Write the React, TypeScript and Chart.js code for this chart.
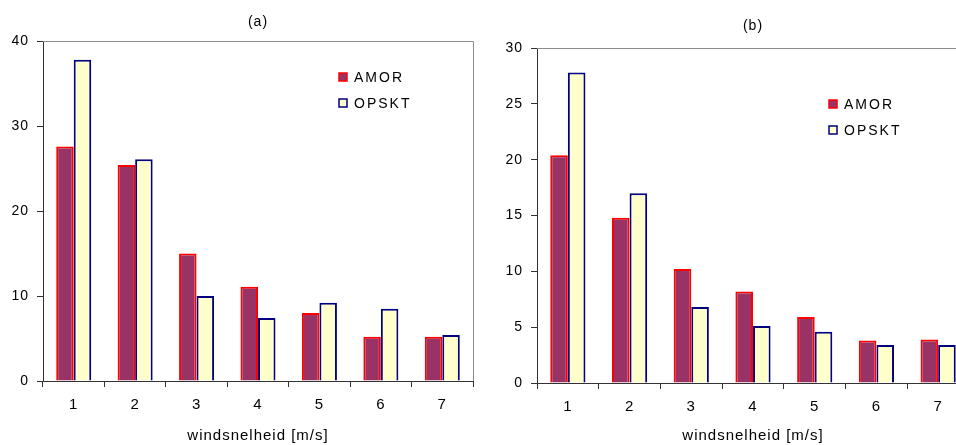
import React, { useEffect, useRef } from "react";
import { Chart, registerables } from "chart.js";
Chart.register(...registerables);

const categories = ["1", "2", "3", "4", "5", "6", "7"];
const seriesNames = ["AMOR", "OPSKT"];
const amorA = [27.6, 25.4, 15.0, 11.1, 8.0, 5.2, 5.2];
const opsktA = [37.8, 26.1, 10.0, 7.4, 9.2, 8.5, 5.4];
const amorB = [20.4, 14.8, 10.2, 8.2, 5.9, 3.8, 3.9];
const opsktB = [27.8, 17.0, 6.8, 5.1, 4.6, 3.4, 3.4];
const titleA = "(a)";
const titleB = "(b)";
const xTitle = "windsnelheid [m/s]";

const FONT = "'Liberation Sans', Arial, sans-serif";

type Cfg = {
  title: string;
  amor: number[];
  opskt: number[];
  yMax: number;
  yStep: number;
  yWidth: number;
  xHeight: number;
  titlePadTop: number;
  titlePadBottom: number;
  legendX: number;
  legendY: number;
};

const spacingPlugin = {
  id: "spacing",
  beforeDraw(chart: any) {
    try {
      (chart.ctx as any).letterSpacing = "1px";
    } catch (e) {}
  },
};

const framePlugin = {
  id: "frame",
  afterDraw(chart: any) {
    const { ctx, chartArea } = chart;
    ctx.save();
    ctx.strokeStyle = "#8c8c8c";
    ctx.lineWidth = 1;
    ctx.beginPath();
    ctx.moveTo(chartArea.left, chartArea.top + 0.5);
    ctx.lineTo(chartArea.right + 0.5, chartArea.top + 0.5);
    ctx.lineTo(chartArea.right + 0.5, chartArea.bottom);
    ctx.stroke();
    ctx.restore();
  },
};

const legendPlugin = {
  id: "inlineLegend",
  afterDraw(chart: any, _args: any, opts: any) {
    const { ctx } = chart;
    ctx.save();
    chart.data.datasets.forEach((ds: any, i: number) => {
      const cy = opts.y + i * opts.gap;
      const bx = opts.x;
      ctx.fillStyle = ds.backgroundColor;
      ctx.fillRect(bx, cy - 4, 8, 8);
      ctx.strokeStyle = ds.borderColor;
      ctx.lineWidth = 1.5;
      ctx.strokeRect(bx, cy - 4, 8, 8);
      ctx.fillStyle = "#000";
      ctx.font = `14px ${FONT}`;
      ctx.textBaseline = "middle";
      ctx.textAlign = "left";
      try {
        (ctx as any).letterSpacing = "2px";
      } catch (e) {}
      ctx.fillText(ds.label, bx + 15, cy + 1);
    });
    ctx.restore();
  },
};

function BarPanel({ cfg, width, height, left }: { cfg: Cfg; width: number; height: number; left: number }) {
  const ref = useRef<HTMLCanvasElement>(null);
  useEffect(() => {
    if (!ref.current) return;
    const chart = new Chart(ref.current, {
      type: "bar",
      data: {
        labels: categories,
        datasets: [
          {
            label: seriesNames[0],
            data: cfg.amor,
            backgroundColor: "#993366",
            borderColor: "#ff0000",
            borderWidth: 2,
          },
          {
            label: seriesNames[1],
            data: cfg.opskt,
            backgroundColor: "#ffffcc",
            borderColor: "#000080",
            borderWidth: 2,
          },
        ],
      },
      options: {
        animation: false,
        responsive: false,
        devicePixelRatio: 1,
        layout: { padding: { left: 0, right: 7, top: 0, bottom: 0 } },
        datasets: { bar: { barPercentage: 1.0, categoryPercentage: 0.57 } },
        plugins: {
          legend: { display: false },
          tooltip: { enabled: false },
          title: {
            display: true,
            text: cfg.title,
            fullSize: false,
            color: "#000",
            font: { family: FONT, size: 14, weight: "normal" },
            padding: { top: cfg.titlePadTop, bottom: cfg.titlePadBottom },
          },
          inlineLegend: { x: cfg.legendX, y: cfg.legendY, gap: 26 },
        } as any,
        scales: {
          x: {
            grid: {
              display: true,
              drawOnChartArea: false,
              drawTicks: true,
              tickLength: 6,
              color: "#333",
              offset: true,
            },
            border: { display: true, color: "#333", width: 1 },
            ticks: {
              color: "#000",
              padding: 9,
              font: { family: FONT, size: 15 },
            },
            title: {
              display: true,
              text: xTitle,
              color: "#000",
              font: { family: FONT, size: 15 },
              padding: { top: 0, bottom: 0 },
            },
            afterFit: (s: any) => {
              s.height = cfg.xHeight;
            },
          },
          y: {
            min: 0,
            max: cfg.yMax,
            grid: {
              display: true,
              drawOnChartArea: false,
              drawTicks: true,
              tickLength: 6,
              color: "#333",
            },
            border: { display: true, color: "#333", width: 1 },
            ticks: {
              stepSize: cfg.yStep,
              color: "#000",
              padding: 8,
              font: { family: FONT, size: 14 },
            },
            afterFit: (s: any) => {
              s.width = cfg.yWidth;
            },
          },
        },
      },
      plugins: [spacingPlugin, framePlugin, legendPlugin],
    });
    return () => chart.destroy();
  }, []);
  return (
    <div style={{ position: "absolute", left, top: 0, width, height }}>
      <canvas ref={ref} width={width} height={height} style={{ display: "block" }} />
    </div>
  );
}

export default function App() {
  const cfgA: Cfg = {
    title: titleA,
    amor: amorA,
    opskt: opsktA,
    yMax: 40,
    yStep: 10,
    yWidth: 43,
    xHeight: 64,
    titlePadTop: 14,
    titlePadBottom: 10.2,
    legendX: 339,
    legendY: 77,
  };
  const cfgB: Cfg = {
    title: titleB,
    amor: amorB,
    opskt: opsktB,
    yMax: 30,
    yStep: 5,
    yWidth: 47,
    xHeight: 62,
    titlePadTop: 18,
    titlePadBottom: 13.2,
    legendX: 829 - 490,
    legendY: 104,
  };
  return (
    <div
      style={{
        position: "fixed",
        left: 0,
        top: 0,
        width: 956,
        height: 445,
        overflow: "hidden",
        background: "#fff",
      }}
    >
      <BarPanel cfg={cfgA} width={480} height={445} left={0} />
      <BarPanel cfg={cfgB} width={486} height={445} left={490} />
    </div>
  );
}
